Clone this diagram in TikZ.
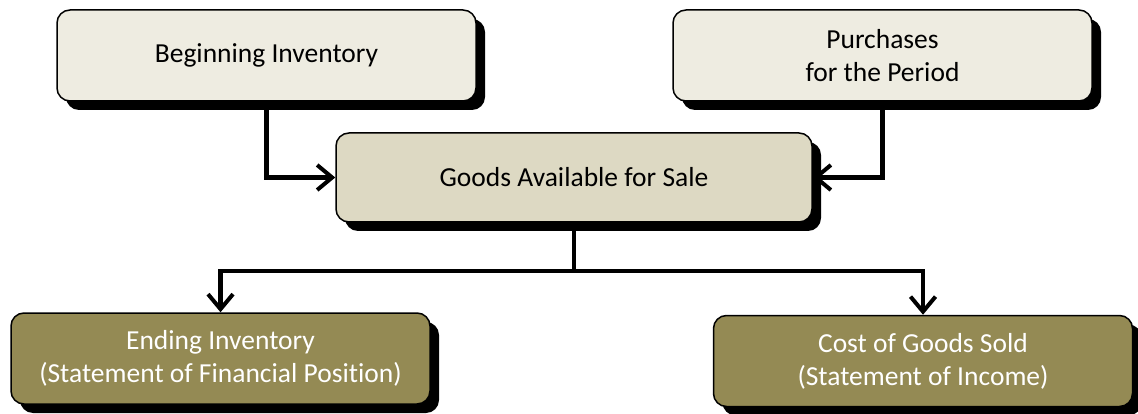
\documentclass[tikz,border=0pt]{standalone}
\usepackage{fontspec}
\setmainfont{Carlito}[Ligatures=NoCommon]
\usetikzlibrary{arrows.meta,shadows}
\definecolor{lighttan}{HTML}{EEECE1}
\definecolor{midtan}{HTML}{DDD9C3}
\definecolor{olive}{HTML}{948A54}
\tikzset{
  box/.style={draw=black, line width=1.5pt, rounded corners=13pt, align=center,
    font=\fontsize{27.5}{33}\selectfont,
    drop shadow={shadow xshift=9pt, shadow yshift=-9pt, fill=black, opacity=1}},
  topbox/.style={box, fill=lighttan, text=black, minimum width=419pt, minimum height=91pt},
  midbox/.style={box, fill=midtan, text=black, minimum width=476pt, minimum height=89pt},
  botbox/.style={box, fill=olive, text=white, minimum width=419pt, minimum height=91pt},
  conn/.style={line width=4.5pt, -{Straight Barb[length=15pt,width=25pt,line width=4pt]}},
  plain/.style={line width=4.5pt}
}
\begin{document}
\begin{tikzpicture}[x=1pt,y=-1pt]
\useasboundingbox (0,0) rectangle (1138,414);
\node[topbox] (begin) at (266.5,55.5) {Beginning Inventory};
\node[topbox] (purch) at (882.5,55.5) {Purchases\\for the Period};
\node[midbox] (goods) at (574,177.5) {Goods Available for Sale};
\node[botbox] (ending) at (220.5,358.5) {Ending Inventory\\(Statement of Financial Position)};
\node[botbox] (cost) at (923,361) {Cost of Goods Sold\\(Statement of Income)};
\coordinate (split) at (574,271);
\draw[conn] (begin.south) |- (goods.west);
\draw[conn] (purch.south) |- (goods.east);
\draw[plain] (goods.south) -- (split);
\draw[conn] (split) -| (ending.north);
\draw[conn] (split) -| (cost.north);
\end{tikzpicture}
\end{document}
